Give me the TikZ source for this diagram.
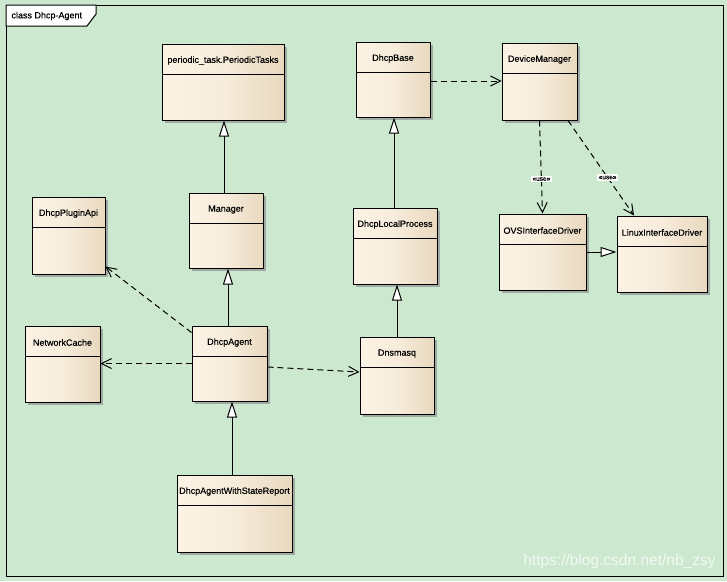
\documentclass[tikz,border=0pt]{standalone}
\usepackage{fontspec}
\setmainfont{Liberation Sans}
\newfontfamily\umlfont[FakeBold=0.4]{Liberation Sans}
\usetikzlibrary{arrows.meta,shadows}

\definecolor{bggreen}{RGB}{204,232,207}
\definecolor{boxlight}{RGB}{252,243,229}
\definecolor{boxdark}{RGB}{232,216,190}
\definecolor{shadowgray}{RGB}{160,170,162}

\begin{document}
\begin{tikzpicture}[x=1pt,y=-1pt,line width=1pt,
    umlclass/.style={draw, rectangle, left color=boxlight, right color=boxdark,
        middle color=boxlight!75!boxdark,
        drop shadow={shadow xshift=3pt,shadow yshift=-3pt,fill=shadowgray,opacity=1},
        path picture={\draw ([yshift=-30pt]path picture bounding box.north west)
            -- ([yshift=-30pt]path picture bounding box.north east);}},
    classname/.style={anchor=center, yshift=-17pt, inner sep=0pt,
        font=\umlfont\fontsize{9}{11}\selectfont},
    gen/.style={-{Triangle[length=16pt,width=10pt,fill=white]}},
    dep/.style={dash pattern=on 6pt off 4pt, -{Straight Barb[length=10pt,width=10pt]}},
    stereo/.style={fill=white, inner xsep=1.5pt, inner ysep=1.5pt,
        font=\umlfont\fontsize{6.5}{7}\selectfont},
    watermark/.style={text=white, opacity=0.75, inner sep=0pt,
        font=\fontsize{15.5}{18}\selectfont}]

    % 背景与边框
    \fill[bggreen] (0,0) rectangle (727,581);
    \useasboundingbox (0,0) rectangle (727,581);
    \draw (6,5) rectangle (723,576);
    \draw[fill=white] (6,5) -- (96,5) -- (96,14) -- (87,26) -- (6,26) -- cycle;
    \node[anchor=west, inner sep=0pt, font=\umlfont\fontsize{9}{11}\selectfont] (frametitle) at (11,16) {class Dhcp-Agent};

    % 设置节点(类)
    \node[umlclass, minimum width=122pt, minimum height=76pt,
        label={[classname]north:periodic\_task.PeriodicTasks}] (periodic) at (223,82) {};
    \node[umlclass, minimum width=74pt, minimum height=75pt,
        label={[classname]north:DhcpBase}] (base) at (393,79.5) {};
    \node[umlclass, minimum width=75pt, minimum height=77pt,
        label={[classname]north:DeviceManager}] (devmgr) at (539.5,81.5) {};
    \node[umlclass, minimum width=73pt, minimum height=77pt,
        label={[classname]north:DhcpPluginApi}] (pluginapi) at (68.5,235.5) {};
    \node[umlclass, minimum width=74pt, minimum height=75pt,
        label={[classname]north:Manager}] (manager) at (226,230.5) {};
    \node[umlclass, minimum width=84pt, minimum height=76pt,
        label={[classname]north:DhcpLocalProcess}] (localproc) at (395,246) {};
    \node[umlclass, minimum width=87pt, minimum height=76pt,
        label={[classname]north:OVSInterfaceDriver}] (ovs) at (542.5,252) {};
    \node[umlclass, minimum width=90pt, minimum height=76pt,
        label={[classname]north:LinuxInterfaceDriver}] (linux) at (662,254) {};
    \node[umlclass, minimum width=75pt, minimum height=76pt,
        label={[classname]north:NetworkCache}] (netcache) at (62.5,364) {};
    \node[umlclass, minimum width=75pt, minimum height=75pt,
        label={[classname]north:DhcpAgent}] (agent) at (229.5,363.5) {};
    \node[umlclass, minimum width=74pt, minimum height=77pt,
        label={[classname]north:Dnsmasq}] (dnsmasq) at (397,375.5) {};
    \node[umlclass, minimum width=115pt, minimum height=77pt,
        label={[classname]north:DhcpAgentWithStateReport}] (withstate) at (234.5,513.5) {};

    % 继承
    \draw[gen] ([xshift=-2pt]manager.north) -- ([xshift=-2pt]manager.north |- periodic.south);
    \draw[gen] ([xshift=-1.5pt]agent.north) -- ([xshift=-1.5pt]agent.north |- manager.south);
    \draw[gen] ([xshift=-2.5pt]withstate.north) -- ([xshift=-2.5pt]withstate.north |- agent.south);
    \draw[gen] ([xshift=-1pt]localproc.north) -- ([xshift=-1pt]localproc.north |- base.south);
    \draw[gen] (dnsmasq.north) -- (dnsmasq.north |- localproc.south);
    \draw[gen] (ovs.east) -- (ovs.east -| linux.west);

    % 依赖
    \draw[dep] ([yshift=-1.5pt]base.east) -- ([yshift=-1.5pt]base.east -| devmgr.west);
    \draw[dep] (devmgr.south) -- node[stereo, pos=0.63] (use1) {«use»} (ovs.north);
    \draw[dep] ([xshift=28.5pt]devmgr.south) -- node[stereo, pos=0.6] (use2) {«use»} ([xshift=-28pt]linux.north);
    \draw[dep] ([yshift=-7pt]agent.north west) -- ([yshift=8pt]pluginapi.south east);
    \draw[dep] (agent.west) -- (agent.west -| netcache.east);
    \draw[dep] ([yshift=-3.5pt]agent.east) -- ([yshift=3.5pt]dnsmasq.west);

    \node[watermark, anchor=base east] (wm) at (716,565) {https://blog.csdn.net/nb\_zsy};

\end{tikzpicture}
\end{document}
